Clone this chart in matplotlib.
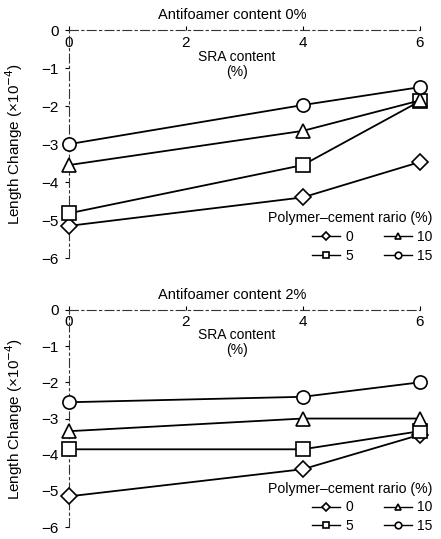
import numpy as np
import matplotlib
matplotlib.use("Agg")
import matplotlib.pyplot as plt

plt.rcParams['font.family'] = ['Liberation Sans', 'DejaVu Sans']

# SRA content (%)
sra = [0, 4, 6]
pcr_labels = ['0', '5', '10', '15']
markers = ['D', 's', '^', 'o']

# length change (x10^-4), antifoamer 0%
af0 = {
    '0': [-5.15, -4.4, -3.47],
    '5': [-4.82, -3.55, -1.87],
    '10': [-3.55, -2.65, -1.85],
    '15': [-3.0, -1.97, -1.5],
}
# antifoamer 2%
af2 = {
    '0': [-5.15, -4.4, -3.45],
    '5': [-3.85, -3.85, -3.35],
    '10': [-3.35, -3.0, -3.0],
    '15': [-2.55, -2.4, -2.0],
}
titles = ['Antifoamer content 0%', 'Antifoamer content 2%']
xticks = [0, 2, 4, 6]
yticks = [0, -1, -2, -3, -4, -5, -6]

fig = plt.figure(figsize=(4.41, 5.39), dpi=100)
ax1 = fig.add_axes([0.156, 0.521, 0.796, 0.423])
ax2 = fig.add_axes([0.156, 0.022, 0.796, 0.403])

dash = (0, (8, 3, 2, 3))
for ax, data, title, legy in zip([ax1, ax2], [af0, af2], titles, [-0.022, -0.028]):
    for lab, m in zip(pcr_labels, markers):
        ms = 8 if m == 'D' else 9.5
        ax.plot(sra, data[lab], color='black', lw=1.3, marker=m, ms=ms,
                mfc='white', mec='black', mew=1.2, clip_on=False, zorder=3,
                label=lab)
    ax.set_xlim(0, 6)
    ax.set_ylim(-6, 0)
    ax.spines['right'].set_visible(False)
    ax.spines['top'].set_visible(False)
    ax.spines['bottom'].set_position(('data', 0))
    for s in ['bottom', 'left']:
        ax.spines[s].set_linestyle(dash)
        ax.spines[s].set_linewidth(0.8)
        ax.spines[s].set_color('#333333')
    ax.set_xticks(xticks)
    ax.set_yticks(yticks)
    ax.set_yticklabels(['0', '\u22121', '\u22122', '\u22123', '\u22124', '\u22125', '\u22126'])
    ax.tick_params(axis='x', direction='in', length=3, labelsize=11, pad=4)
    ax.tick_params(axis='y', direction='out', length=3, labelsize=11, pad=4)
    ax.text(2.8, 0.4, title, ha='center', va='center', fontsize=10.5, clip_on=False)
    ax.text(2.87, -0.7, 'SRA content', ha='center', va='center', fontsize=10)
    ax.text(2.87, -1.1, '(%)', ha='center', va='center', fontsize=10)
    ax.set_ylabel('Length Change (\u00d710$^{-4}$)', fontsize=11)
    ax.yaxis.set_label_coords(-0.125, 0.5)
    leg = ax.legend(ncol=2, title='Polymer\u2013cement rario (%)', frameon=False,
                    loc='lower right', bbox_to_anchor=(1.037, legy),
                    borderpad=0, borderaxespad=0, alignment='right',
                    fontsize=10, title_fontsize=10.2, markerscale=0.5,
                    handlelength=2.0, columnspacing=2.2, handletextpad=0.4,
                    labelspacing=0.35)
    for h in leg.legend_handles:
        h.set_linewidth(1.0)

fig.savefig('out.png', dpi=100)
